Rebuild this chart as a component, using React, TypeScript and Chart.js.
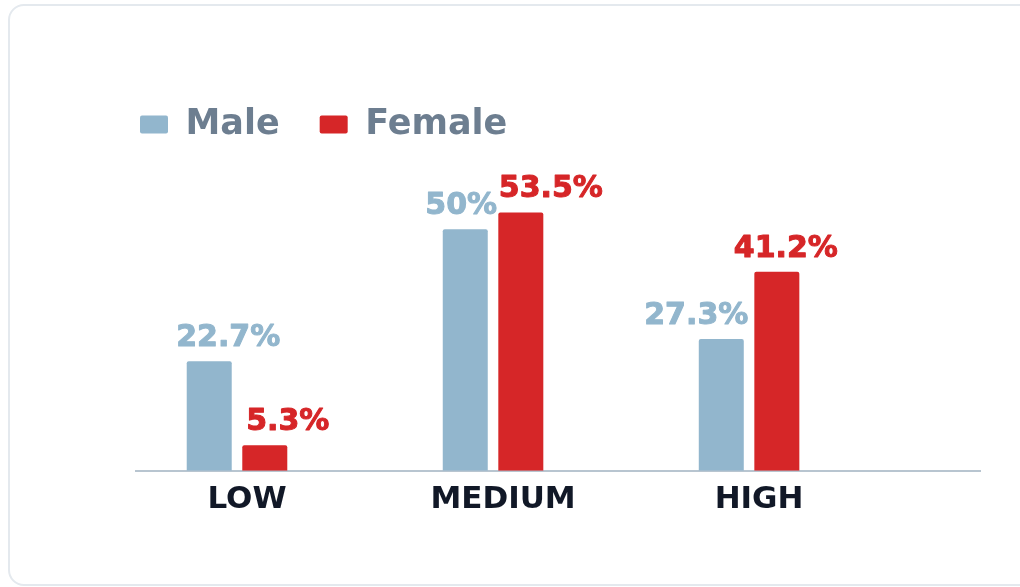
import React, { useEffect, useRef } from "react";
import { Chart, registerables } from "chart.js";

Chart.register(...registerables);

// ---- data ----
const CATEGORIES = ["LOW", "MEDIUM", "HIGH"];
const SERIES_NAMES = ["Male", "Female"];
const MALE = [22.7, 50, 27.3];
const FEMALE = [5.3, 53.5, 41.2];
const Y_MIN = 0;
const Y_MAX = 66;

// ---- styles ----
const MALE_COLOR = "#92b6cd";
const FEMALE_COLOR = "#d62628";
const LEGEND_TEXT = "#6d7e90";
const AXIS_TEXT = "#111827";
const AXIS_LINE = "#b8c5d0";
const FONT = "'DejaVu Sans', 'Liberation Sans', sans-serif";
// horizontal nudges of value labels (px), per series
const LABEL_NUDGE = [
  [19, -4, -25],
  [23, 30, 9],
];
const LABEL_GAP = 15;

const valueLabels = {
  id: "valueLabels",
  afterDatasetsDraw(chart: any) {
    const ctx = chart.ctx;
    ctx.save();
    ctx.font = `bold 30px ${FONT}`;
    ctx.textAlign = "center";
    ctx.textBaseline = "alphabetic";
    ctx.lineWidth = 1;
    ctx.lineJoin = "round";
    chart.data.datasets.forEach((ds: any, di: number) => {
      const meta = chart.getDatasetMeta(di);
      ctx.fillStyle = ds.backgroundColor;
      ctx.strokeStyle = ds.backgroundColor;
      meta.data.forEach((bar: any, i: number) => {
        const v = ds.data[i].y;
        const x = bar.x + LABEL_NUDGE[di][i];
        const y = bar.y - LABEL_GAP;
        ctx.fillText(`${v}%`, x, y);
        ctx.strokeText(`${v}%`, x, y);
      });
    });
    ctx.restore();
  },
};

export default function App() {
  const ref = useRef<HTMLCanvasElement | null>(null);

  useEffect(() => {
    if (!ref.current) return;
    const chart = new Chart(ref.current, {
      type: "bar",
      data: {
        datasets: [
          {
            label: SERIES_NAMES[0],
            data: MALE.map((v, i) => ({ x: i, y: v })),
            backgroundColor: MALE_COLOR,
            borderWidth: 0,
            borderRadius: 2,
            categoryPercentage: 0.434,
            barPercentage: 0.81,
          },
          {
            label: SERIES_NAMES[1],
            data: FEMALE.map((v, i) => ({ x: i, y: v })),
            backgroundColor: FEMALE_COLOR,
            borderWidth: 0,
            borderRadius: 2,
            categoryPercentage: 0.434,
            barPercentage: 0.81,
          },
        ],
      },
      options: {
        responsive: false,
        devicePixelRatio: 1,
        animation: false,
        layout: { padding: { top: 67, left: 100, right: 40, bottom: 65 } },
        plugins: {
          legend: {
            position: "top",
            align: "start",
            labels: {
              boxWidth: 28,
              boxHeight: 18,
              padding: 40,
              color: LEGEND_TEXT,
              useBorderRadius: true,
              borderRadius: 2,
              font: { family: FONT, size: 35, weight: "bold" },
            },
          },
          tooltip: { enabled: false },
        },
        scales: {
          x: {
            type: "linear",
            offset: false,
            min: -0.3945,
            max: 2.902,
            grid: { display: false, offset: false },
            border: { display: true, color: AXIS_LINE, width: 2 },
            afterBuildTicks: (s: any) => {
              s.ticks = CATEGORIES.map((_, i) => ({ value: i }));
            },
            ticks: {
              stepSize: 1,
              includeBounds: false,
              autoSkip: false,
              maxRotation: 0,
              padding: 3,
              labelOffset: 10,
              color: AXIS_TEXT,
              font: { family: FONT, size: 31, weight: "bold" },
              callback: (v: any) => CATEGORIES[v] ?? "",
            },
          },
          y: {
            min: Y_MIN,
            max: Y_MAX,
            display: true,
            grid: { display: false },
            border: { display: false },
            ticks: { display: false },
            afterFit: (s: any) => {
              s.width = 36;
            },
          },
        },
      },
      plugins: [valueLabels],
    });
    return () => chart.destroy();
  }, []);

  return (
    <div style={{ position: "fixed", inset: 0, overflow: "hidden", background: "#ffffff" }}>
      <div
        style={{
          position: "absolute",
          left: 8,
          top: 4,
          width: 1080,
          height: 582,
          border: "2px solid #e4e9ee",
          borderRadius: 16,
          boxSizing: "border-box",
          background: "#ffffff",
        }}
      />
      <canvas ref={ref} width={1020} height={587} style={{ position: "absolute", left: 0, top: 0 }} />
    </div>
  );
}
